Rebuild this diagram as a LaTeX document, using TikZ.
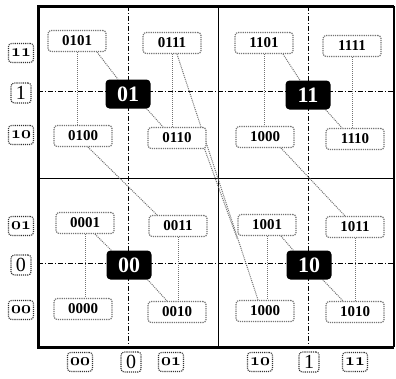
\documentclass[tikz,border=0pt]{standalone}
\usepackage{fontspec}
\newfontfamily\lserif{Liberation Serif}
\newcommand\osn[1]{{\usefont{OML}{cmm}{b}{it}#1}}
\usetikzlibrary{backgrounds,calc}
\begin{document}
\begin{tikzpicture}[x=1pt,y=-1pt,
 cell/.style={draw=black!55, densely dotted, line width=1.2pt, rounded corners=3pt, fill=white,
   minimum width=58pt, minimum height=21pt, inner sep=0pt, font=\lserif\bfseries\fontsize{15}{15}\selectfont},
 hub/.style={fill=black, rounded corners=4pt, minimum width=45pt, minimum height=29pt, inner sep=0pt,
   text=white, font=\lserif\bfseries\fontsize{22}{22}\selectfont},
 code/.style={draw=black!80, densely dotted, line width=1.1pt, rounded corners=3pt, fill=white,
   minimum width=25pt, minimum height=19pt, inner sep=1pt, font=\fontsize{17}{17}\selectfont},
 bit/.style={code, minimum width=20pt, minimum height=20pt, font=\lserif\fontsize{20}{20}\selectfont},
 link/.style={draw=black!55, densely dotted, line width=1pt},
 axis/.style={draw=black, line width=0.7pt, dash pattern=on 5pt off 2pt on 1pt off 2pt},
]
\useasboundingbox (0,0) rectangle (396,378);

% hubs
\node[hub] (h01) at (128,94) {01};
\node[hub] (h11) at (308,95) {11};
\node[hub] (h00) at (129,265) {00};
\node[hub] (h10) at (309,265) {10};

% cells
\node[cell] (c0101) at (77,41) {0101};
\node[cell] (c0111) at (172,43) {0111};
\node[cell] (c0100) at (83,136) {0100};
\node[cell] (c0110) at (177,138) {0110};
\node[cell] (c1101) at (264,43) {1101};
\node[cell] (c1111) at (352,46) {1111};
\node[cell] (c1000t) at (265,137) {1000};
\node[cell] (c1110) at (355,139) {1110};
\node[cell] (c0001) at (85,223) {0001};
\node[cell] (c0011) at (178,226) {0011};
\node[cell] (c0000) at (83,309) {0000};
\node[cell] (c0010) at (177,312) {0010};
\node[cell] (c1001) at (267,225) {1001};
\node[cell] (c1011) at (355,227) {1011};
\node[cell] (c1000b) at (265,311) {1000};
\node[cell] (c1010) at (355,312) {1010};

% row labels
\node[code] (r11) at (21,53) {\osn{11}};
\node[bit]  (r1)  at (21,93) {1};
\node[code] (r10) at (21,135) {\osn{10}};
\node[code] (r01) at (21,226) {\osn{01}};
\node[bit]  (r0)  at (21,265) {0};
\node[code] (r00) at (21,310) {\osn{00}};
% column labels
\node[code] (k00) at (80,362) {\osn{00}};
\node[bit]  (k0)  at (131,362) {0};
\node[code] (k01) at (171,362) {\osn{01}};
\node[code] (k10) at (260,362) {\osn{10}};
\node[bit]  (k1)  at (309,362) {1};
\node[code] (k11) at (355,362) {\osn{11}};

\begin{scope}[on background layer]
% dash-dot axes
\draw[axis] (38,91) -- (394,91);
\draw[axis] (38,263) -- (394,263);
\draw[axis] (128,6) -- (128,347);
\draw[axis] (308,6) -- (308,347);
% frame
\draw[line width=1pt] (218,6) -- (218,347);
\draw[line width=1pt] (38,178) -- (394,178);
\draw[line width=1.5pt] (394,6) -- (394,347);
\draw[line width=3pt] (394,6) -- (38,6) -- (38,347) -- (394,347);

% connectors
\draw[link] (c0101.south) -- (c0101.south |- c0100.north);
\draw[link] (c0111.south) -- (c0111.south |- c0110.north);
\draw[link] (c1101.south) -- (c1101.south |- c1000t.north);
\draw[link] (c1111.south) -- (c1111.south |- c1110.north);
\draw[link] (c0001.south) -- (c0001.south |- c0000.north);
\draw[link] (c0011.south) -- (c0011.south |- c0010.north);
\draw[link] (c1001.south) -- (c1001.south |- c1000b.north);
\draw[link] (c1011.south) -- (c1011.south |- c1010.north);

\draw[link] ([xshift=20pt]c0101.south) -- ([xshift=-10pt]h01.north);
\draw[link] ([xshift=-4pt]h01.south east) -- ([xshift=-14pt]c0110.north);
\draw[link] ([xshift=19pt]c1101.south) -- ([xshift=-8pt]h11.north);
\draw[link] ([xshift=-5pt]h11.south east) -- ([xshift=-13pt]c1110.north);
\draw[link] ([xshift=10pt]c0001.south) -- ([xshift=5pt]h00.north west);
\draw[link] ([xshift=-4pt]h00.south east) -- ([xshift=-10pt]c0010.north);
\draw[link] ([xshift=14pt]c1001.south) -- ([xshift=7pt]h10.north west);
\draw[link] ([xshift=-9pt]h10.south east) -- ([xshift=-12pt]c1010.north);

\draw[link] ([xshift=5pt]c0100.south) -- ([xshift=-21pt]c0011.north);
\draw[link] ([xshift=16pt]c1000t.south) -- ([xshift=-10pt]c1011.north);
\draw[link] ([xshift=5pt]c0111.south) -- ([xshift=-7pt]c1000b.north);
\draw[link] ([xshift=-2pt]c0110.south east) -- ([yshift=-3pt]c1001.south west);
\end{scope}
\end{tikzpicture}
\end{document}
